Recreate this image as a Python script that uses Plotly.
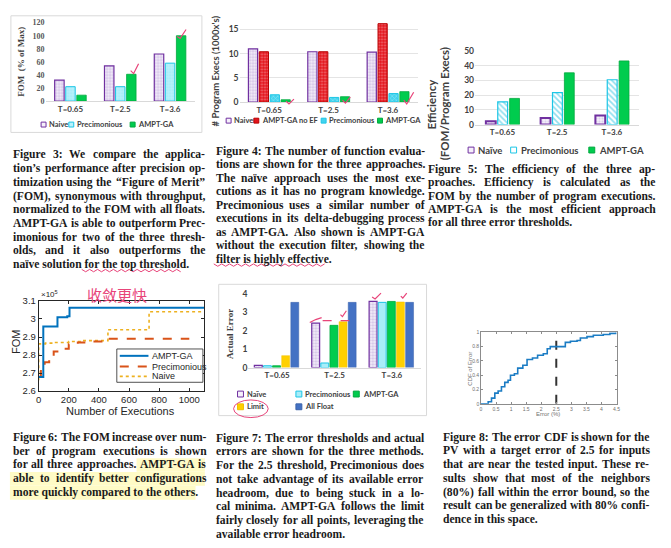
import plotly.graph_objects as go

W, H = 671, 548
def X(px): return px / W
def Y(py): return 1 - py / H

# ---------------- data ----------------
thresholds = ["T=0.65", "T=2.5", "T=3.6"]

# Figure 3: FOM (% of max)
fom_naive = [32, 54, 72]
fom_precimonious = [22, 22, 58]
fom_ampt = [9, 41, 100]

# Figure 4: program executions (1000's)
execs_naive = [11.0, 10.4, 10.3]
execs_ampt_no_ef = [10.4, 10.4, 16.2]
execs_precimonious = [1.5, 0.95, 1.75]
execs_ampt = [0.47, 1.1, 2.15]

# Figure 5: efficiency
eff_naive = [2.3, 4.4, 6.2]
eff_precimonious = [15.5, 21.8, 30.5]
eff_ampt = [17.8, 35.2, 43.3]

# Figure 6: FOM (x1e5) vs number of executions
conv_ampt_x = [0, 31, 125, 190, 205, 1100]
conv_ampt_y = [2.678, 2.959, 3.01, 3.015, 3.062, 3.062]
conv_prec_x = [0, 15, 40, 70, 100, 135, 200, 260, 330, 450, 1000]
conv_prec_y = [2.68, 2.745, 2.76, 2.79, 2.82, 2.835, 2.86, 2.87, 2.875, 2.89, 2.89]
conv_naive_x = [0, 0, 45, 100, 200, 300, 460, 733, 1100]
conv_naive_y = [2.66, 2.862, 2.866, 2.87, 2.875, 2.88, 2.94, 3.04, 3.04]

# Figure 7: actual error
err_naive = [0.12, 2.42, 3.6]
err_precimonious = [0.1, 0.25, 3.55]
err_ampt = [0.1, 2.3, 3.6]
err_limit = [0.65, 2.5, 3.57]
err_all_float = [3.55, 3.55, 3.55]

# Figure 8: error CDF
cdf_error = [0, 0.13, 0.24, 0.35, 0.46, 0.57, 0.68, 0.79, 0.9, 0.98, 1.11, 1.22, 1.39,
             1.53, 1.71, 1.88, 2.07, 2.2, 2.3, 2.64, 2.8, 2.97, 3.19, 3.3, 3.52, 3.73,
             4.06, 4.28, 4.48]
cdf_value = [0, 0, 0.03, 0.08, 0.15, 0.18, 0.24, 0.30, 0.33, 0.40, 0.42, 0.50, 0.54,
             0.62, 0.64, 0.68, 0.70, 0.77, 0.80, 0.80, 0.86, 0.875, 0.885, 0.92, 0.94,
             0.96, 0.97, 0.985, 1.0]
target_error = [2.5, 2.5]
target_span = [0, 1]

cap3 = ["Figure 3: We compare the applica-",
        "tion\u2019s performance after precision op-",
        "timization using the \u201cFigure of Merit\u201d",
        "(FOM), synonymous with throughput,",
        "normalized to the FOM with all floats.",
        "AMPT-GA is able to outperform Prec-",
        "imonious for two of the three thresh-",
        "olds, and it also outperforms the",
        "naïve solution for the top threshold."]
cap4 = ["Figure 4: The number of function evalua-",
        "tions are shown for the three approaches.",
        "The naïve approach uses the most exe-",
        "cutions as it has no program knowledge.",
        "Precimonious uses a similar number of",
        "executions in its delta-debugging process",
        "as AMPT-GA. Also shown is AMPT-GA",
        "without the execution filter, showing the",
        "filter is highly effective."]
cap5 = ["Figure 5: The efficiency of the three ap-",
        "proaches. Efficiency is calculated as the",
        "FOM by the number of program executions.",
        "AMPT-GA is the most efficient approach",
        "for all three error thresholds."]
cap6 = ["Figure 6: The FOM increase over num-",
        "ber of program executions is shown",
        "for all three approaches. AMPT-GA is",
        "able to identify better configurations",
        "more quickly compared to the others."]
cap7 = ["Figure 7: The error thresholds and actual",
        "errors are shown for the three methods.",
        "For the 2.5 threshold, Precimonious does",
        "not take advantage of its available error",
        "headroom, due to being stuck in a lo-",
        "cal minima. AMPT-GA follows the limit",
        "fairly closely for all points, leveraging the",
        "available error headroom."]
cap8 = ["Figure 8: The error CDF is shown for the",
        "PV with a target error of 2.5 for inputs",
        "that are near the tested input. These re-",
        "sults show that most of the neighbors",
        "(80%) fall within the error bound, so the",
        "result can be generalized with 80% confi-",
        "dence in this space."]

# ---------------- styles ----------------
PURPLE = '#7030A0'
CYAN = '#1CC6E6'
GREEN = '#00CC4E'
PINK = '#E8457A'
SANS = 'Lato'
SERIF = 'Liberation Serif'
ML = 'Liberation Sans'
CAP = 11.6

naive_st = dict(color='#F5F0FA', line=dict(color=PURPLE, width=1.2),
                pattern=dict(shape='.', fgcolor='#A98BD0', size=3, solidity=0.45))
naive_st5 = dict(color='#F5F0FA', line=dict(color=PURPLE, width=2),
                 pattern=dict(shape='.', fgcolor='#C2AEDD', size=3, solidity=0.4))
prec_light = dict(color='#B8F1FB', line=dict(color=CYAN, width=1),
                  pattern=dict(shape='.', fgcolor='#86E3F3', size=3, solidity=0.3))
prec_chk = dict(color='#43D3EE', line=dict(color=CYAN, width=1),
                pattern=dict(shape='x', fgcolor='#E6FAFE', size=3, solidity=0.3))
prec_hatch = dict(color='white', line=dict(color=CYAN, width=1.2),
                  pattern=dict(shape='\\', fgcolor='#22BFE0', size=4, solidity=0.45))
prec_plain = dict(color='#A8EDF9', line=dict(color=CYAN, width=1))
ampt_st = dict(color=GREEN, line=dict(color='#00A83E', width=0.8))
noef_st = dict(color='#E3141C', line=dict(color='#B80000', width=1),
               pattern=dict(shape='.', fgcolor='#FFE0E0', size=3, solidity=0.3))
limit_st = dict(color='#FFD000', line=dict(color='#F0C000', width=0.5))
float_st = dict(color='#4472C4', line=dict(color='#3A62AA', width=0.5))

fig = go.Figure()

def bar(n, vals, width, offset, style):
    fig.add_trace(go.Bar(x=thresholds, y=vals, xaxis='x' + n, yaxis='y' + n,
                         width=width, offset=offset, marker=style,
                         showlegend=False, hoverinfo='skip'))

for vals, off, st in [(fom_naive, -0.317, naive_st), (fom_precimonious, -0.095, prec_light),
                      (fom_ampt, 0.127, ampt_st)]:
    bar('', vals, 0.19, off, st)
for vals, off, st in [(execs_naive, -0.35, naive_st), (execs_ampt_no_ef, -0.167, noef_st),
                      (execs_precimonious, 0.017, prec_chk), (execs_ampt, 0.2, ampt_st)]:
    bar('2', vals, 0.155, off, st)
for vals, off, st in [(eff_naive, -0.302, naive_st5), (eff_precimonious, -0.085, prec_hatch),
                      (eff_ampt, 0.132, ampt_st)]:
    bar('3', vals, 0.18, off, st)
for vals, off, st in [(err_naive, -0.397, naive_st), (err_precimonious, -0.238, prec_plain),
                      (err_ampt, -0.079, ampt_st), (err_limit, 0.080, limit_st),
                      (err_all_float, 0.239, float_st)]:
    bar('5', vals, 0.138, off, st)

fig.add_trace(go.Scatter(x=conv_naive_x, y=conv_naive_y, xaxis='x4', yaxis='y4', mode='lines',
                         line=dict(color='#EDB120', width=1.6, dash='dot', shape='hv'),
                         showlegend=False, hoverinfo='skip'))
fig.add_trace(go.Scatter(x=conv_prec_x, y=conv_prec_y, xaxis='x4', yaxis='y4', mode='lines',
                         line=dict(color='#D95319', width=2, dash='dash', shape='hv'),
                         showlegend=False, hoverinfo='skip'))
fig.add_trace(go.Scatter(x=conv_ampt_x, y=conv_ampt_y, xaxis='x4', yaxis='y4', mode='lines',
                         line=dict(color='#0072BD', width=2, shape='hv'),
                         showlegend=False, hoverinfo='skip'))
fig.add_trace(go.Scatter(x=target_error, y=target_span, xaxis='x6', yaxis='y6', mode='lines',
                         line=dict(color='#333333', width=2, dash='dash'),
                         showlegend=False, hoverinfo='skip'))
fig.add_trace(go.Scatter(x=cdf_error, y=cdf_value, xaxis='x6', yaxis='y6', mode='lines',
                         line=dict(color='#1B7CC4', width=1.6, shape='hv'),
                         showlegend=False, hoverinfo='skip'))

# ---------------- axes ----------------
def catx(x0, x1, anchor, size=8):
    return dict(domain=[X(x0), X(x1)], anchor=anchor, type='category',
                tickfont=dict(family=SANS, size=size, color='#404040', weight='bold'),
                showline=True, linecolor='#D9D9D9', linewidth=1, ticks='',
                showgrid=False, zeroline=False, fixedrange=True)

def valy(y0, y1, anchor, rng, dtick, grid, font):
    return dict(domain=[Y(y0), Y(y1)], anchor=anchor, range=rng, dtick=dtick,
                tickfont=font, showgrid=grid, gridcolor='#E4E4E4', gridwidth=1,
                zeroline=False, showline=False, ticks='', fixedrange=True)

boldsans = dict(family=SANS, size=8.5, color='#404040', weight='bold')
serif_t = dict(family=SERIF, size=8, color='#595959', weight='bold')

ml_axis = dict(showline=True, linecolor='#262626', linewidth=0.8, mirror='ticks', ticks='inside',
               ticklen=3, tickcolor='#262626', showgrid=False, zeroline=False,
               tickfont=dict(family=ML, size=9.5, color='#262626'), fixedrange=True)
small_axis = dict(showline=True, linecolor='#8C8C8C', linewidth=0.6, mirror='ticks', ticks='inside',
                  ticklen=2, tickcolor='#8C8C8C', showgrid=False, zeroline=False,
                  tickfont=dict(family=ML, size=5, color='#707070'), fixedrange=True)

fig.update_layout(
    width=W, height=H, margin=dict(l=0, r=0, t=0, b=0),
    paper_bgcolor='white', plot_bgcolor='rgba(0,0,0,0)',
    barmode='overlay', showlegend=False,
    xaxis=catx(43, 194, 'y'),
    yaxis=valy(97, 17, 'x', [0, 120], 20, False, serif_t),
    xaxis2=catx(239, 419, 'y2'),
    yaxis2=valy(98, 14.1, 'x2', [0, 17], 5, True, boldsans),
    xaxis3=catx(477, 643, 'y3'),
    yaxis3=valy(121, 46, 'x3', [0, 50], 10, True, boldsans),
    xaxis4=dict(domain=[X(36), X(203.5)], anchor='y4', range=[0, 1100],
                tickvals=[0, 200, 400, 600, 800, 1000], **ml_axis),
    yaxis4=dict(domain=[Y(393), Y(301)], anchor='x4', range=[2.6, 3.1], dtick=0.1, **ml_axis),
    xaxis5=catx(248, 422, 'y5'),
    yaxis5=valy(369, 294, 'x5', [0, 4], 1, False, boldsans),
    xaxis6=dict(domain=[X(483), X(620)], anchor='y6', range=[0, 4.5], dtick=0.5, **small_axis),
    yaxis6=dict(domain=[Y(406), Y(333)], anchor='x6', range=[0, 1], dtick=0.2, **small_axis),
)

ann = []
shapes = []

def text(x, y, s, size, family=SANS, color='#404040', weight='normal', angle=0,
         xanchor='center', yanchor='middle', **kw):
    ann.append(dict(x=X(x), y=Y(y), xref='paper', yref='paper', text=s, showarrow=False,
                    textangle=angle, xanchor=xanchor, yanchor=yanchor,
                    font=dict(family=family, size=size, color=color, weight=weight), **kw))

def rect(x0, y0, x1, y1, line='#D9D9D9', fill='rgba(0,0,0,0)', width=1, layer='above'):
    shapes.append(dict(type='rect', xref='paper', yref='paper', x0=X(x0), x1=X(x1),
                       y0=Y(y0), y1=Y(y1), line=dict(color=line, width=width),
                       fillcolor=fill, layer=layer))

def path(pts, color=PINK, width=1.2, dash='solid'):
    d = 'M ' + ' L '.join('%.5f,%.5f' % (X(a), Y(b)) for a, b in pts)
    shapes.append(dict(type='path', xref='paper', yref='paper', path=d,
                       line=dict(color=color, width=width, dash=dash)))

def legend(items, y, font=8, msize=5):
    for mx, tx, name, st in items:
        rect(mx - msize / 2, y - msize / 2, mx + msize / 2, y + msize / 2,
             line=st['line']['color'], fill=st.get('color'), width=1)
        text(tx, y, name, font, weight='bold', xanchor='left')

# ---- caption typesetting (justified, Times-Bold metrics) ----
TB = {' ': 250, '!': 333, '"': 555, '%': 1000, "'": 278, '(': 333, ')': 333, ',': 250,
      '-': 333, '.': 250, '/': 278, ':': 333, ';': 333, '?': 500,
      '\u2019': 333, '\u201c': 500, '\u201d': 500, 'ï': 278}
for ch in '0123456789':
    TB[ch] = 500
for ch, wv in zip('ABCDEFGHIJKLMNOPQRSTUVWXYZ',
                  [722, 667, 722, 722, 667, 611, 778, 778, 389, 500, 778, 667, 944, 722, 778,
                   611, 778, 722, 556, 667, 722, 722, 1000, 722, 722, 667]):
    TB[ch] = wv
for ch, wv in zip('abcdefghijklmnopqrstuvwxyz',
                  [500, 556, 444, 556, 444, 333, 500, 556, 278, 333, 556, 278, 833, 556, 500,
                   556, 556, 444, 389, 333, 556, 500, 722, 500, 500, 444]):
    TB[ch] = wv

def tw(s, size=CAP):
    return sum(TB.get(c, 500) for c in s) * size / 1000.0

def set_line(s, x0, x1, y, justify):
    words = s.split(' ')
    if justify and len(words) > 1:
        total = sum(tw(wd) for wd in words)
        gap = (x1 - x0 - total) / (len(words) - 1)
        x = x0
        for wd in words:
            text(x, y, wd, CAP, family=SERIF, color='#1A1A1A', weight='bold', xanchor='left')
            x += tw(wd) + gap
    else:
        text(x0, y, s, CAP, family=SERIF, color='#1A1A1A', weight='bold', xanchor='left')

def caption(lines, x0, x1, y0, step):
    for i, s in enumerate(lines):
        set_line(s, x0, x1, y0 + i * step, i < len(lines) - 1)

# chart frames
rect(8, 10, 201, 129, layer='below')
rect(218, 284, 428, 418, layer='below')

# figure 6 caption highlight (behind text)
p6_y0 = 440
p6_step = 14.2
line3_words = cap6[2].split(' ')
hl_word_index = line3_words.index('AMPT-GA')
_total = sum(tw(wd) for wd in line3_words)
_gap = (203 - 8 - _total) / (len(line3_words) - 1)
_hx = 8 + sum(tw(wd) + _gap for wd in line3_words[:hl_word_index])
HL = '#FFFBC6'
rect(_hx - 1, p6_y0 + 2 * p6_step - 7, 204, p6_y0 + 2 * p6_step + 7, line='rgba(0,0,0,0)',
     fill=HL, width=0, layer='below')
rect(7, p6_y0 + 3 * p6_step - 7, 204, p6_y0 + 3 * p6_step + 7, line='rgba(0,0,0,0)',
     fill=HL, width=0, layer='below')
rect(7, p6_y0 + 4 * p6_step - 7, 8 + tw(cap6[4]) + 1, p6_y0 + 4 * p6_step + 7,
     line='rgba(0,0,0,0)', fill=HL, width=0, layer='below')

caption(cap3, 8, 202, 152, 14)
caption(cap4, 213, 424, 148, 13.8)
caption(cap5, 427, 657, 167, 13.5)
caption(cap6, 8, 203, p6_y0, p6_step)
caption(cap7, 213, 423, 441, 14)
caption(cap8, 443, 651, 440, 14)

# axis titles
text(18, 57, 'FOM  (% of Max)', 9, family=SERIF, weight='bold', angle=-90)
text(215, 66, "# Program Execs (1000x's)", 9.5, weight='bold', angle=-90)
text(434, 100, 'Efficiency', 11.5, weight='bold', angle=-90)
text(447, 100, '(FOM/Program Execs)', 11.5, weight='bold', angle=-90)
text(13, 343, 'FOM', 11, family=ML, color='#262626', angle=-90)
text(119, 413, 'Number of Executions', 11, family=ML, color='#262626')
text(36, 294, '\u00d710<sup>5</sup>', 8, family=ML, color='#262626', xanchor='left')
text(230, 335, 'Actual Error', 9, family=SERIF, weight='bold', angle=-90)
text(471, 370, 'CDF of Error', 6, family=ML, color='#707070', angle=-90)
text(551, 416, 'Error (%)', 6, family=ML, color='#707070')

# legends
legend([(41, 44.5, 'Naive', naive_st), (69, 72.5, 'Precimonious', prec_light),
        (131, 134.5, 'AMPT-GA', ampt_st)], 121, font=7.5)
legend([(228, 231.5, 'Naive', naive_st), (256, 259.5, 'AMPT-GA no EF', noef_st),
        (324, 327.5, 'Precimonious', prec_chk), (381, 384.5, 'AMPT-GA', ampt_st)], 117, font=7.5)
legend([(473, 478, 'Naïve', naive_st5), (516, 521, 'Precimonious', prec_hatch),
        (595, 600, 'AMPT-GA', ampt_st)], 147, font=9.5, msize=6)
legend([(240, 244.5, 'Naïve', naive_st), (299, 303.5, 'Precimonious', prec_plain),
        (357, 361.5, 'AMPT-GA', ampt_st)], 396, font=7.5, msize=6)
legend([(240, 244.5, 'Limit', limit_st), (299, 303.5, 'All Float', float_st)], 409,
       font=7.5, msize=6)

# Figure 6 legend box (MATLAB style)
rect(115, 350, 202, 384, line='#262626', fill='white', width=0.8)
for yy, name, col, dash, w in [(357, 'AMPT-GA', '#0072BD', 'solid', 2),
                               (368, 'Precimonious', '#D95319', 'dash', 2),
                               (378, 'Naive', '#EDB120', 'dot', 1.6)]:
    path([(118, yy), (147, yy)], color=col, width=w, dash=dash)
    text(149, yy, name, 9, family=ML, color='#262626', xanchor='left')

# handwritten marks
text(115, 294, '收敛更快', 15, family='Noto Sans CJK SC', color=PINK)
path([(129, 66), (132, 69), (137, 59)])
path([(176, 31), (179, 33), (185, 24)])
path([(286, 97), (289, 100), (294, 95)])
path([(343, 96), (346, 99), (351, 93)])
path([(405, 96), (408, 100), (415, 88)])
path([(310, 323), (316, 320), (322, 318)])
path([(323, 321), (350, 321)], dash='dash')
path([(341, 315), (343, 317), (347, 311)])
path([(373, 297), (376, 299), (382, 293)])
path([(402, 296), (404, 298), (408, 293)])
shapes.append(dict(type='circle', xref='paper', yref='paper', x0=X(233), x1=X(268),
                   y0=Y(420), y1=Y(402), line=dict(color=PINK, width=1)))

def wavy(x0, x1, y, amp=1.2, per=8):
    pts = []
    x = x0
    k = 0
    while x <= x1:
        pts.append((x, y + (amp if k % 2 else -amp)))
        x += per / 2
        k += 1
    path(pts, width=1)

u3 = 8 + tw('naïve solution ')
wavy(u3, u3 + tw('for the top threshold'), 152 + 8 * 14 + 6)
wavy(213, 213 + tw('filter is highly effective'), 148 + 8 * 13.8 + 6)

fig.update_layout(annotations=ann, shapes=shapes)
fig.write_html('out.html')
